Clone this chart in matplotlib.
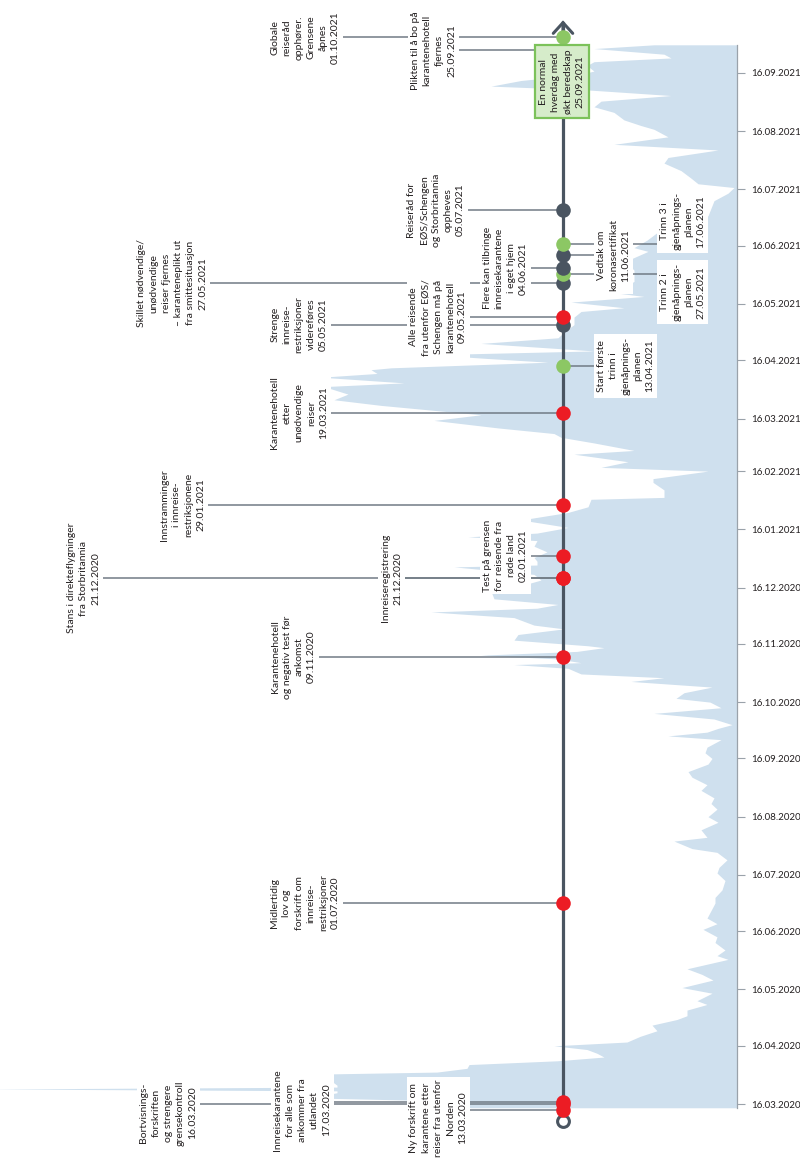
import matplotlib
matplotlib.use("Agg")
import matplotlib.pyplot as plt
import matplotlib.dates as mdates
from datetime import datetime

plt.rcParams['font.family'] = ['Lato', 'DejaVu Sans']

# ---------------- data ----------------
BASE_DATE = "16.03.2020"   # day 0 of the area series

# daily arrivals profile (days after 16.03.2020, relative size)
area_day = [-2, 0, 2, 3, 4, 6, 7, 8, 9, 10, 12,
            14, 16, 17, 19, 21, 23, 25, 27, 29, 31,
            33, 36, 39, 42, 45, 47, 50, 53, 55, 59,
            62, 66, 69, 72, 77, 79, 82, 86, 89, 93,
            96, 99, 103, 107, 110, 114, 119, 123, 126, 130,
            134, 136, 140, 142, 146, 150, 153, 157, 160, 163,
            167, 170, 174, 177, 181, 184, 187, 190, 194, 196,
            198, 200, 202, 205, 208, 211, 214, 216, 219, 222,
            225, 227, 229, 232, 234, 235, 237, 239, 241, 243,
            244, 247, 250, 253, 255, 259, 262, 264, 266, 269,
            273, 276, 279, 282, 286, 287, 289, 291, 294, 297,
            300, 302, 304, 307, 311, 315, 318, 322, 323, 327,
            331, 333, 337, 339, 342, 346, 348, 352, 355, 357,
            360, 364, 367, 370, 372, 375, 378, 382, 384, 387,
            389, 391, 392, 395, 397, 399, 401, 405, 408, 411,
            415, 419, 422, 424, 427, 430, 432, 435, 438, 444,
            448, 450, 454, 456, 460, 464, 468, 473, 477, 481,
            485, 488, 490, 493, 497, 501, 504, 508, 511, 515,
            519, 521, 524, 528, 531, 534, 537, 540, 542, 545,
            548, 550, 553, 555, 557, 559, 562, 564]
area_value = [266, 290, 320, 405, 420, 400, 400, 750, 400, 400, 405,
              410, 410, 300, 270, 268, 180, 133, 140, 150, 183,
              110, 97, 80, 85, 60, 50, 50, 30, 40, 25,
              55, 24, 35, 50, 9, 20, 12, 22, 20, 34,
              20, 30, 26, 22, 22, 15, 12, 20, 18, 10,
              20, 45, 63, 30, 36, 19, 29, 20, 26, 23,
              36, 30, 45, 49, 29, 25, 32, 30, 16, 69,
              30, 19, 5, 23, 83, 16, 27, 61, 53, 25,
              106, 73, 156, 169, 223, 156, 179, 256, 160, 133,
              149, 223, 219, 173, 203, 223, 306, 200, 179, 243,
              246, 216, 196, 203, 283, 200, 200, 203, 190, 203,
              200, 269, 200, 169, 216, 169, 149, 146, 73, 73,
              84, 84, 29, 136, 109, 163, 103, 143, 176, 183,
              239, 303, 256, 316, 356, 403, 389, 413, 333, 416,
              360, 366, 346, 189, 250, 306, 143, 256, 179, 173,
              163, 163, 156, 113, 166, 93, 123, 113, 103, 103,
              110, 106, 89, 103, 90, 80, 40, 29, 26, 23,
              9, 3, 39, 46, 56, 73, 69, 19, 123, 69,
              83, 96, 113, 123, 143, 136, 66, 150, 246, 216,
              160, 143, 150, 143, 66, 73, 143, 83]

event_text = [
    "Ny forskrift om\nkarantene etter\nreiser fra utenfor\nNorden\n13.03.2020",
    "Bortvisnings-\nforskriften\nog strengere\ngrensekontroll\n16.03.2020",
    "Innreisekarantene\nfor alle som\nankommer fra\nutlandet\n17.03.2020",
    "Midlertidig\nlov og\nforskrift om\ninnreise-\nrestriksjoner\n01.07.2020",
    "Karantenehotell\nog negativ test før\nankomst\n09.11.2020",
    "Stans i direkteflygninger\nfra Storbritannia\n21.12.2020",
    "Innreiseregistrering\n21.12.2020",
    "Test på grensen\nfor reisende fra\nrøde land\n02.01.2021",
    "Innstramminger\ni innreise-\nrestriksjonene\n29.01.2021",
    "Karantenehotell\netter\nunødvendige\nreiser\n19.03.2021",
    "Start første\ntrinn i\ngjenåpnings-\nplanen\n13.04.2021",
    "Strenge\ninnreise-\nrestriksjoner\nvidereføres\n05.05.2021",
    "Alle reisende\nfra utenfor EØS/\nSchengen må på\nkarantenehotell\n09.05.2021",
    "Skillet nødvendige/\nunødvendige\nreiser fjernes\n– karanteneplikt ut\nfra smittesituasjon\n27.05.2021",
    "Trinn 2 i\ngjenåpnings-\nplanen\n27.05.2021",
    "Flere kan tilbringe\ninnreisekarantene\ni eget hjem\n04.06.2021",
    "Vedtak om\nkoronasertifikat\n11.06.2021",
    "Trinn 3 i\ngjenåpnings-\nplanen\n17.06.2021",
    "Reiseråd for\nEØS/Schengen\nog Storbritannia\noppheves\n05.07.2021",
    "Plikten til å bo på\nkarantenehotell\nfjernes\n25.09.2021",
    "Globale\nreiseråd\nopphører.\nGrensene\nåpnes\n01.10.2021",
]
event_date = ["13.03.2020", "16.03.2020", "17.03.2020", "01.07.2020", "09.11.2020",
              "21.12.2020", "21.12.2020", "02.01.2021", "29.01.2021", "19.03.2021",
              "13.04.2021", "05.05.2021", "09.05.2021", "27.05.2021", "27.05.2021",
              "04.06.2021", "11.06.2021", "17.06.2021", "05.07.2021", "25.09.2021",
              "01.10.2021"]
event_kind = ["red", "red", "red", "red", "red",
              "red", "red", "red", "red", "red",
              "green", "dark", "red", "dark", "green",
              "dark", "dark", "green", "dark", None,
              "green"]

milestone_text = "En normal\nhverdag med\nøkt beredskap\n25.09.2021"
milestone_date = "25.09.2021"
timeline_start = "07.03.2020"
timeline_end = "14.10.2021"

tick_labels = ["16.03.2020", "16.04.2020", "16.05.2020", "16.06.2020", "16.07.2020",
               "16.08.2020", "16.09.2020", "16.10.2020", "16.11.2020", "16.12.2020",
               "16.01.2021", "16.02.2021", "16.03.2021", "16.04.2021", "16.05.2021",
               "16.06.2021", "16.07.2021", "16.08.2021", "16.09.2021"]

# ---------------- layout ----------------
TL_X = 563          # timeline x (px-like units)
AXIS_X = 737        # zero line of the area / date axis
label_edge = [467, 197, 331, 340, 316, 100, 402, 528, 205, 328,
              597, 328, 467, 207, 660, 528, 597, 660, 465, 456, 340]
label_side = ["L", "L", "L", "L", "L", "L", "L", "L", "L", "L",
              "R", "L", "L", "L", "R", "L", "R", "R", "L", "L", "L"]
line_shift = [0, 0, 0, 0, 0, 0, 0, 0, 0, 0,
              0, 0, 0, 0, 4.8, 0, 0, 0, 0, 3, 4]
label_shift = [-4.5, -4.8, -4.2, 0, 0, 0, 0, 0, 0, 0,
               0, 0, 0, 0, -9.5, 0, 0, 12, 0, 0, 0]
MILESTONE_SHIFT = 3.5

FS = 7.5
LS = 1.45
C_TXT = "#231f20"
C_LINE = "#717b85"
C_TL = "#4a5561"
C_AREA = "#cfe0ee"
C_AXIS = "#9aa2aa"
DOT = {"red": "#ec1c24", "green": "#8cc764", "dark": "#4a5561"}


def dnum(s):
    return mdates.date2num(datetime.strptime(s, "%d.%m.%Y"))


fig = plt.figure(figsize=(8, 11.61), dpi=100)
ax = fig.add_axes([0, 0, 1, 1])
base = dnum(BASE_DATE)
ax.set_xlim(0, 800)
ax.set_ylim(base - 30.35, base + 587.86)

# area
area_y = [base + k for k in area_day]
area_x = [AXIS_X - v for v in area_value]
ax.fill_betweenx(area_y, area_x, AXIS_X, color=C_AREA, lw=0, zorder=1)

# date axis on the right
for s in ["top", "left", "bottom"]:
    ax.spines[s].set_visible(False)
ax.spines["right"].set_position(("data", AXIS_X))
ax.spines["right"].set_bounds(area_y[0], area_y[-1])
ax.spines["right"].set_color(C_AXIS)
ax.spines["right"].set_linewidth(0.9)
ax.yaxis.set_ticks_position("right")
ax.set_yticks([dnum(t) for t in tick_labels])
ax.set_yticklabels(tick_labels)
ax.tick_params(axis="y", direction="out", length=6, width=0.8, colors=C_AXIS,
               labelcolor=C_TXT, labelsize=7, pad=4)
ax.set_xticks([])

# timeline
t0, t1 = dnum(timeline_start), dnum(timeline_end)
ax.vlines(TL_X, t0, t1 - 1, color=C_TL, lw=2.3, zorder=4)
ax.annotate("", xy=(TL_X, t1), xytext=(TL_X, t1 - 6),
            arrowprops=dict(arrowstyle="->,head_length=0.55,head_width=0.5",
                            color=C_TL, lw=2.2, shrinkA=0, shrinkB=0,
                            joinstyle="miter", mutation_scale=14), zorder=4)
ax.plot([TL_X], [t0], marker="o", ms=8.5, mfc="white", mec=C_TL, mew=2.2, zorder=5)

# events
for i, (txt, ds, kind) in enumerate(zip(event_text, event_date, event_kind)):
    y = dnum(ds) + line_shift[i]
    edge = label_edge[i]
    if label_side[i] == "L":
        ax.hlines(y, edge, TL_X, color=C_LINE, lw=1.1, zorder=2)
        ha = "right"
    else:
        ax.hlines(y, TL_X, edge, color=C_LINE, lw=1.1, zorder=2)
        ha = "left"
    ax.text(edge, y + label_shift[i], txt, rotation=90, ha=ha, va="center",
            multialignment="center", fontsize=FS, linespacing=LS, color=C_TXT,
            bbox=dict(boxstyle="square,pad=0.25", fc="white", ec="none"), zorder=3)
    if kind:
        ax.scatter([TL_X], [y], s=110, color=DOT[kind], lw=0, zorder=5)

# milestone box
ax.text(TL_X - 1, dnum(milestone_date) + MILESTONE_SHIFT, milestone_text, rotation=90,
        ha="center", va="top", multialignment="center", fontsize=FS, linespacing=LS,
        color=C_TXT,
        bbox=dict(boxstyle="square,pad=0.4", fc="#d6ecca", ec="#7cc25a", lw=1.6),
        zorder=6)

fig.savefig("out.png", dpi=100, facecolor="white")
